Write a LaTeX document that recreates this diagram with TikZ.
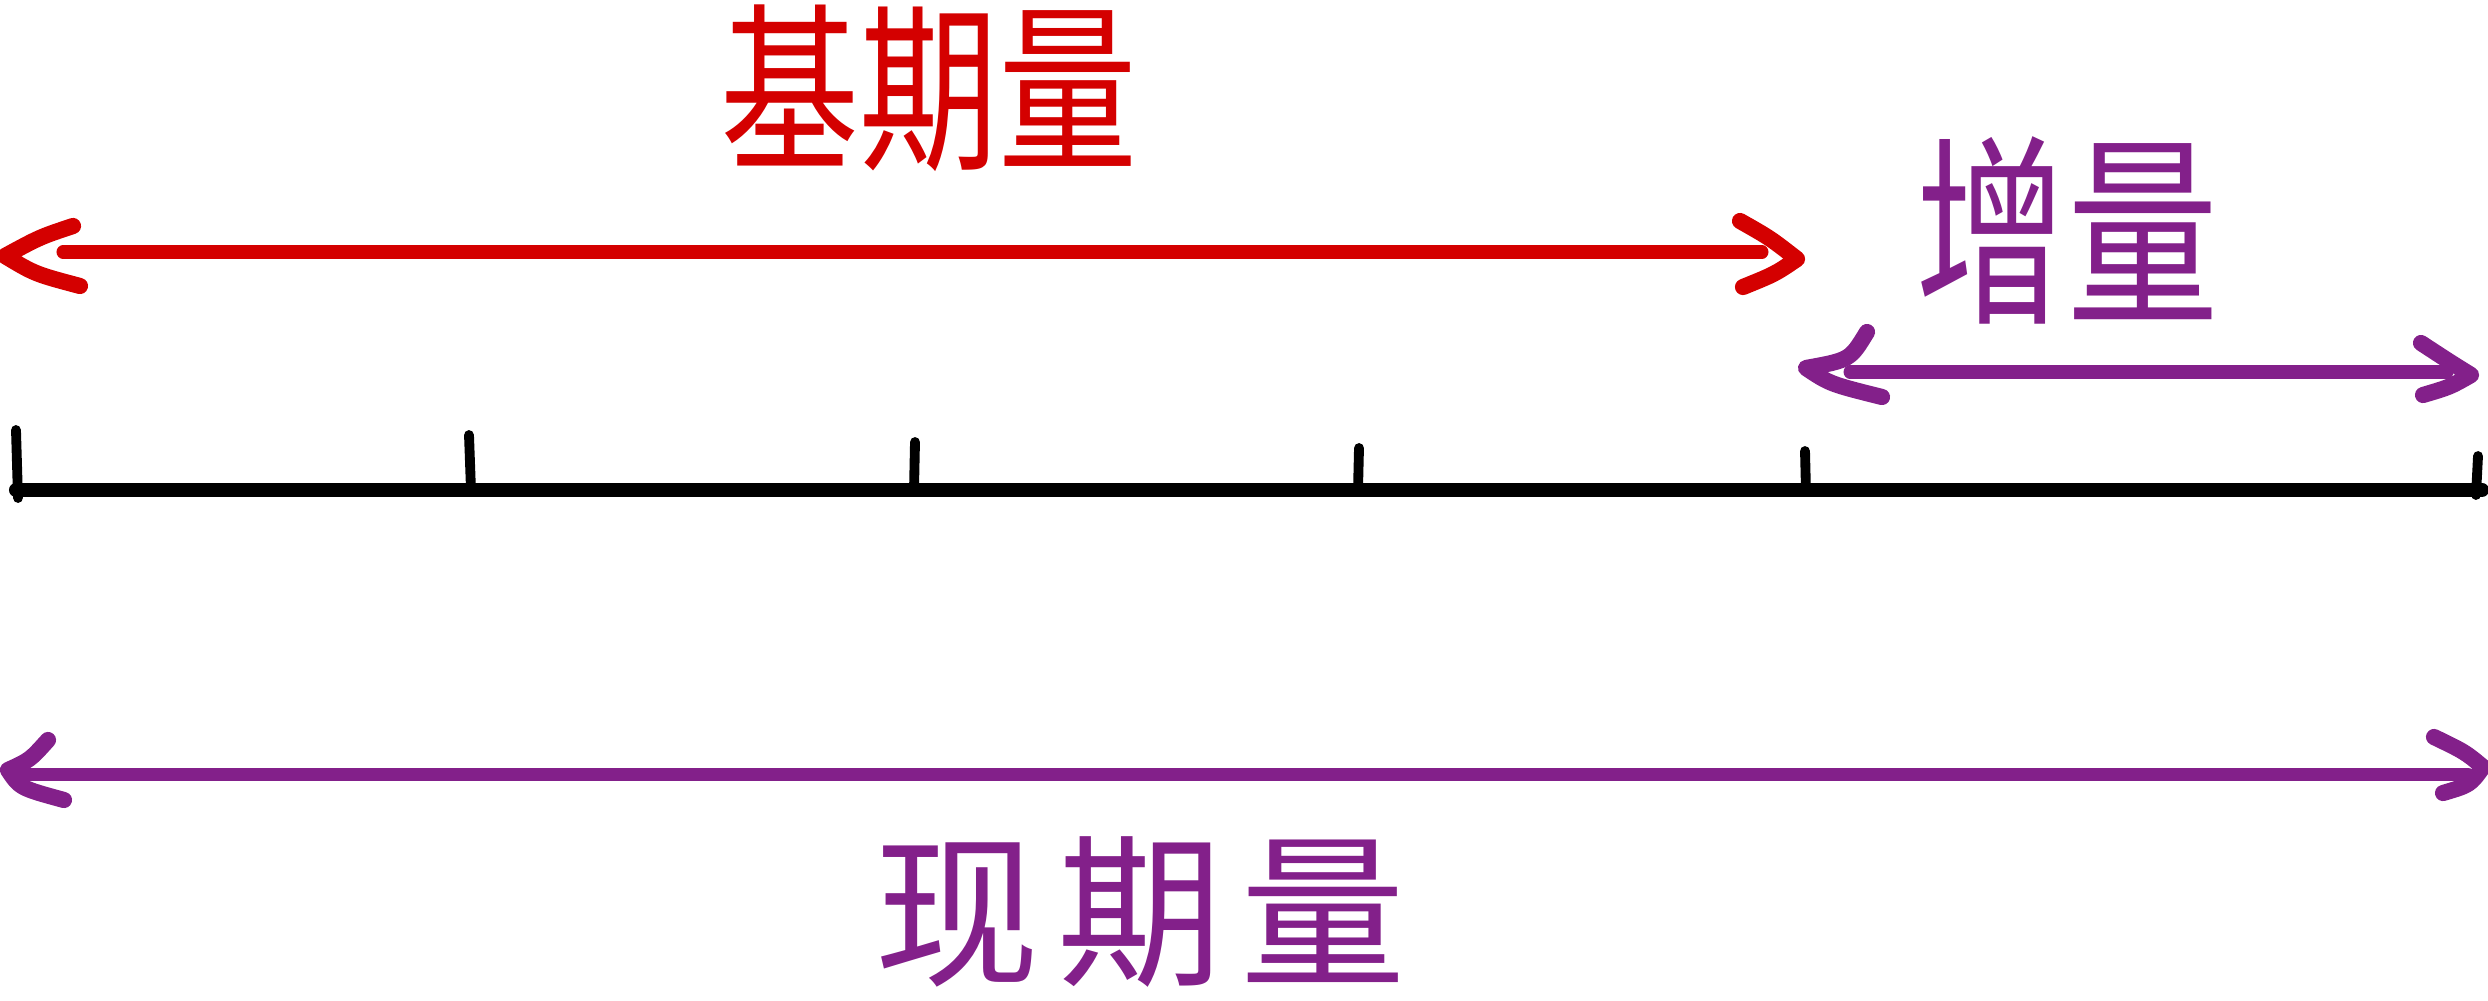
\documentclass[tikz,border=0pt]{standalone}
\usepackage{graphicx}
\usepackage{fontspec}
\newfontfamily\cjk{Noto Sans CJK SC}
\definecolor{hred}{RGB}{212,0,0}
\definecolor{hpurple}{RGB}{131,32,138}
\begin{document}
\begin{tikzpicture}[x=0.01cm,y=-0.01cm,line cap=round,line join=round,
  shaft/.style={line width=3.7pt},
  headstroke/.style={line width=4.6pt},
  axisline/.style={line width=4pt,black},
  tickmark/.style={line width=2.8pt,black},
  lbl/.style={inner sep=0pt,outer sep=0pt}]
\useasboundingbox (0,0) rectangle (2488,1000);

% ---------- red arrow (base period) ----------
\coordinate (rL) at (63,252);
\coordinate (rR) at (1762,252);
\coordinate (rLtip) at (5,256);
\coordinate (rLa) at (73,226);
\coordinate (rLb) at (80,286);
\coordinate (rRtip) at (1797,259);
\coordinate (rRa) at (1740,221);
\coordinate (rRb) at (1743,287);
\draw[shaft,hred] (rL) -- (rR);
\draw[headstroke,hred] (rLa) .. controls (40,237) .. (rLtip) .. controls (35,274) .. (rLb);
\draw[headstroke,hred] (rRa) .. controls (1770,238) .. (rRtip) .. controls (1775,274) .. (rRb);

\node[lbl,text=hred] (t1) at (929,88) {\scalebox{1}[1.3]{\cjk\fontsize{39.5}{40}\selectfont 基期量}};

% ---------- purple arrow (increment) ----------
\coordinate (pL) at (1850,372);
\coordinate (pR) at (2447,372);
\coordinate (pLtip) at (1806,368);
\coordinate (pLa) at (1867,332);
\coordinate (pLb) at (1882,397);
\coordinate (pRtip) at (2471,375);
\coordinate (pRa) at (2421,343);
\coordinate (pRb) at (2423,395);
\draw[shaft,hpurple] (pL) -- (pR);
\draw[headstroke,hpurple] (pLa) .. controls (1850,360) .. (pLtip) .. controls (1830,384) .. (pLb);
\draw[headstroke,hpurple] (pRa) .. controls (2450,362) .. (pRtip) .. controls (2450,387) .. (pRb);

\node[lbl,text=hpurple] (t2) at (2067,230) {\scalebox{1}[1.35]{\cjk\fontsize{43}{43}\selectfont 增量}};

% ---------- axis ----------
\coordinate (a0) at (16,490);
\coordinate (a1) at (2482,490);
\draw[axisline] (a0) -- (a1);
\coordinate (k1t) at (16,430);   \coordinate (k1b) at (18,498);
\coordinate (k2t) at (469,435);  \coordinate (k2b) at (471,490);
\coordinate (k3t) at (915,442);  \coordinate (k3b) at (914,490);
\coordinate (k4t) at (1359,448); \coordinate (k4b) at (1358,490);
\coordinate (k5t) at (1805,451); \coordinate (k5b) at (1806,492);
\coordinate (k6t) at (2478,456); \coordinate (k6b) at (2476,495);
\foreach \k in {1,...,6} \draw[tickmark] (k\k t) -- (k\k b);

% ---------- bottom purple arrow (current period) ----------
\coordinate (bL) at (24,774);
\coordinate (bR) at (2468,774);
\coordinate (bLtip) at (8,770);
\coordinate (bLa) at (48,740);
\coordinate (bLb) at (64,800);
\coordinate (bRtip) at (2483,767);
\coordinate (bRa) at (2434,737);
\coordinate (bRb) at (2443,793);
\draw[shaft,hpurple] (bL) -- (bR);
\draw[headstroke,hpurple] (bLa) .. controls (30,760) .. (bLtip) .. controls (20,788) .. (bLb);
\draw[headstroke,hpurple] (bRa) .. controls (2465,752) .. (bRtip) .. controls (2470,785) .. (bRb);

\node[lbl,text=hpurple] (t3) at (1140,912) {\scalebox{1}[1.0]{\cjk\fontsize{47}{48}\selectfont 现\hspace{5pt}期\hspace{5pt}量}};
\end{tikzpicture}
\end{document}
